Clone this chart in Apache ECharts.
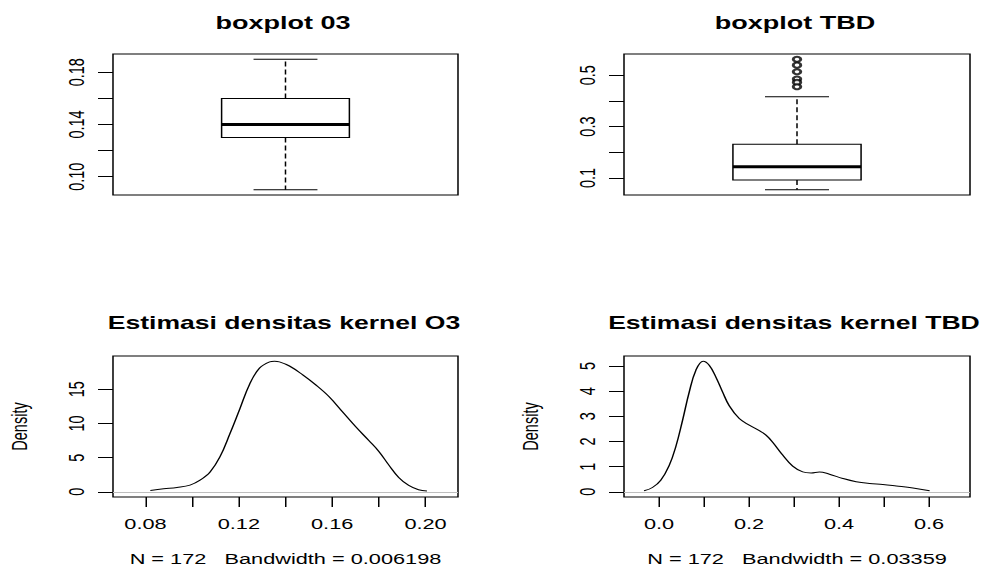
<!DOCTYPE html>
<html><head><meta charset="utf-8">
<script src="https://cdn.jsdelivr.net/npm/echarts@6/dist/echarts.min.js"></script>
<style>
html,body{margin:0;padding:0;background:#fff;overflow:hidden}
#wrap{width:985px;height:570px;overflow:hidden;position:relative}
#chart{width:656.667px;height:570px;transform:scaleX(1.5);transform-origin:0 0}
</style>
</head><body><div id="wrap"><div id="chart"></div></div>
<script>
// ---------------- data ----------------
const titles = ['boxplot 03', 'boxplot TBD', 'Estimasi densitas kernel O3', 'Estimasi densitas kernel TBD'];
const densityXNames = ['N = 172   Bandwidth = 0.006198', 'N = 172   Bandwidth = 0.03359'];
const densityYName = 'Density';

// five-number summaries: [lower whisker, Q1, median, Q3, upper whisker]
const o3Box = [0.09, 0.13, 0.14, 0.16, 0.19];
const tbdBox = [0.054, 0.092, 0.144, 0.231, 0.416];
const tbdOutliers = [0.562, 0.539, 0.513, 0.485, 0.472, 0.455];

const o3DensX = [0.0821, 0.0878, 0.0935, 0.0991, 0.1034, 0.1077, 0.1119, 0.1162, 0.1204, 0.1247, 0.1289, 0.1332, 0.1353, 0.1374, 0.1417, 0.1474, 0.1531, 0.1587, 0.1644, 0.1701, 0.1757, 0.18, 0.1843, 0.1885, 0.1928, 0.197, 0.2006];
const o3DensY = [0.2, 0.44, 0.64, 0.98, 1.7, 2.9, 5.1, 8.5, 12.1, 15.8, 18.1, 19.0, 19.1, 19.0, 18.4, 17.1, 15.6, 13.9, 11.7, 9.5, 7.5, 5.9, 3.9, 2.1, 0.93, 0.3, 0.12];

const tbdDensX = [-0.0334, -0.0148, 0.0037, 0.0223, 0.0371, 0.052, 0.0668, 0.0817, 0.098, 0.1114, 0.1262, 0.141, 0.1559, 0.1782, 0.2004, 0.2227, 0.2376, 0.2524, 0.2747, 0.2969, 0.3192, 0.3378, 0.3563, 0.3786, 0.4083, 0.438, 0.4677, 0.4973, 0.5272, 0.5642, 0.6013];
const tbdDensY = [0.04, 0.17, 0.46, 1.04, 1.79, 2.83, 3.95, 4.83, 5.19, 5.03, 4.56, 3.97, 3.42, 2.91, 2.65, 2.43, 2.25, 1.97, 1.46, 1.02, 0.79, 0.75, 0.79, 0.70, 0.53, 0.40, 0.33, 0.29, 0.23, 0.15, 0.04];

// ticks and tick labels
const o3BoxTicks = [0.10, 0.12, 0.14, 0.16, 0.18];
const o3BoxLabels = [0.10, 0.14, 0.18];
const tbdBoxTicks = [0.1, 0.2, 0.3, 0.4, 0.5];
const tbdBoxLabels = [0.1, 0.3, 0.5];
const o3DensXTicks = [0.08, 0.10, 0.12, 0.14, 0.16, 0.18, 0.20];
const o3DensXLabels = [0.08, 0.12, 0.16, 0.20];
const o3DensYTicks = [0, 5, 10, 15];
const tbdDensXTicks = [0, 0.1, 0.2, 0.3, 0.4, 0.5, 0.6];
const tbdDensXLabels = [0, 0.2, 0.4, 0.6];
const tbdDensYTicks = [0, 1, 2, 3, 4, 5];

// axis ranges
const o3BoxRange = [0.086, 0.194];
const tbdBoxRange = [0.0337, 0.5823];
const o3DensXRange = [0.0661, 0.2139];
const o3DensYRange = [-0.764, 19.864];
const tbdDensXRange = [-0.078, 0.691];
const tbdDensYRange = [-0.2076, 5.3976];

// ---------------- style ----------------
const FONT = '"Liberation Sans", Arial, sans-serif';
const SMALL = 14.5;
const BOX_HALF = 0.2, CAP_HALF = 0.1;
const grids = [
  {left: 75.33, top: 54, width: 230, height: 141},
  {left: 416, top: 54, width: 230.67, height: 141},
  {left: 75.33, top: 356, width: 230, height: 141},
  {left: 416, top: 356, width: 230.67, height: 141}
];
const titlePos = [[188.7, 14], [530, 14], [189.3, 314], [529.3, 314]];

function boxRenderItem(params, api) {
  const x = api.value(0);
  const lo = api.value(1), q1 = api.value(2), med = api.value(3), q3 = api.value(4), hi = api.value(5);
  const bl = api.coord([x - BOX_HALF, q1]);
  const tr = api.coord([x + BOX_HALF, q3]);
  const mL = api.coord([x - BOX_HALF, med]);
  const mR = api.coord([x + BOX_HALF, med]);
  const pLo = api.coord([x, lo]), pHi = api.coord([x, hi]);
  const pQ1 = api.coord([x, q1]), pQ3 = api.coord([x, q3]);
  const cL = api.coord([x - CAP_HALF, lo])[0], cR = api.coord([x + CAP_HALF, lo])[0];
  const dash = {stroke: '#000', lineWidth: 1, lineDash: [5, 3], fill: null};
  const solid = {stroke: '#000', lineWidth: 1, fill: null};
  return {type: 'group', children: [
    {type: 'line', shape: {x1: pQ3[0], y1: pQ3[1], x2: pHi[0], y2: pHi[1]}, style: dash},
    {type: 'line', shape: {x1: pQ1[0], y1: pQ1[1], x2: pLo[0], y2: pLo[1]}, style: dash},
    {type: 'line', shape: {x1: cL, y1: pHi[1], x2: cR, y2: pHi[1]}, style: solid},
    {type: 'line', shape: {x1: cL, y1: pLo[1], x2: cR, y2: pLo[1]}, style: solid},
    {type: 'rect', shape: {x: bl[0], y: tr[1], width: tr[0] - bl[0], height: bl[1] - tr[1]}, style: {stroke: '#000', lineWidth: 1, fill: '#fff'}},
    {type: 'line', shape: {x1: mL[0], y1: mL[1], x2: mR[0], y2: mR[1]}, style: {stroke: '#000', lineWidth: 3}}
  ]};
}

function yAxisCfg(idx, range, ticks, labels, fmt, name) {
  return {
    gridIndex: idx, type: 'value', min: range[0], max: range[1],
    axisLine: {show: false, onZero: false},
    splitLine: {show: false},
    axisTick: {show: true, length: 10, lineStyle: {color: '#000', width: 1}, customValues: ticks},
    axisLabel: {show: true, customValues: labels, rotate: 90, margin: 17, color: '#000',
      fontSize: SMALL, fontFamily: FONT, formatter: fmt},
    name: name || '', nameLocation: 'middle', nameGap: 55,
    nameTextStyle: {color: '#000', fontSize: SMALL, fontFamily: FONT}
  };
}
function xAxisDens(idx, range, ticks, labels, fmt, name) {
  return {
    gridIndex: idx, type: 'value', min: range[0], max: range[1],
    axisLine: {show: false, onZero: false},
    splitLine: {show: false},
    axisTick: {show: true, length: 10, lineStyle: {color: '#000', width: 1}, customValues: ticks},
    axisLabel: {show: true, customValues: labels, margin: 19, color: '#000',
      fontSize: SMALL, fontFamily: FONT, formatter: fmt},
    name: name, nameLocation: 'middle', nameGap: 54,
    nameTextStyle: {color: '#000', fontSize: SMALL, fontFamily: FONT}
  };
}
function zeroLine(idx) {
  return {type: 'line', xAxisIndex: idx, yAxisIndex: idx, data: [], z: 10, silent: true,
    markLine: {silent: true, symbol: ['none', 'none'], label: {show: false}, z: 10,
      lineStyle: {color: '#bebebe', type: 'solid', width: 1.2}, data: [{yAxis: 0}]}};
}

const chart = echarts.init(document.getElementById('chart'), null, {renderer: 'svg'});
const option = {
  animation: false,
  backgroundColor: '#fff',
  title: titles.map((t, i) => ({
    text: t, left: titlePos[i][0], top: titlePos[i][1], textAlign: 'center', padding: 0,
    textStyle: {fontSize: i < 2 ? 18 : 17.7, fontWeight: 'bold', color: '#000', fontFamily: FONT}
  })),
  grid: grids.map(g => Object.assign({show: true, borderColor: '#000', borderWidth: 1, backgroundColor: 'transparent'}, g)),
  xAxis: [
    {gridIndex: 0, type: 'value', min: 0.46, max: 1.54, show: false},
    {gridIndex: 1, type: 'value', min: 0.46, max: 1.54, show: false},
    xAxisDens(2, o3DensXRange, o3DensXTicks, o3DensXLabels, v => v.toFixed(2), densityXNames[0]),
    xAxisDens(3, tbdDensXRange, tbdDensXTicks, tbdDensXLabels, v => v.toFixed(1), densityXNames[1])
  ],
  yAxis: [
    yAxisCfg(0, o3BoxRange, o3BoxTicks, o3BoxLabels, v => v.toFixed(2)),
    yAxisCfg(1, tbdBoxRange, tbdBoxTicks, tbdBoxLabels, v => v.toFixed(1)),
    yAxisCfg(2, o3DensYRange, o3DensYTicks, o3DensYTicks, v => String(Math.round(v)), densityYName),
    yAxisCfg(3, tbdDensYRange, tbdDensYTicks, tbdDensYTicks, v => String(Math.round(v)), densityYName)
  ],
  series: [
    {type: 'custom', xAxisIndex: 0, yAxisIndex: 0, renderItem: boxRenderItem,
      encode: {x: 0, y: [1, 2, 3, 4, 5]}, data: [[1].concat(o3Box)], silent: true},
    {type: 'custom', xAxisIndex: 1, yAxisIndex: 1, renderItem: boxRenderItem,
      encode: {x: 0, y: [1, 2, 3, 4, 5]}, data: [[1].concat(tbdBox)], silent: true},
    {type: 'scatter', xAxisIndex: 1, yAxisIndex: 1, symbol: 'emptyCircle', symbolSize: 5,
      itemStyle: {color: '#000', borderColor: '#000', borderWidth: 0.8},
      data: tbdOutliers.map(v => [1, v]), silent: true},
    {type: 'line', xAxisIndex: 2, yAxisIndex: 2, showSymbol: false, smooth: 0.4, z: 2,
      lineStyle: {color: '#000', width: 1}, data: o3DensX.map((x, i) => [x, o3DensY[i]]), silent: true},
    {type: 'line', xAxisIndex: 3, yAxisIndex: 3, showSymbol: false, smooth: 0.4, z: 2,
      lineStyle: {color: '#000', width: 1}, data: tbdDensX.map((x, i) => [x, tbdDensY[i]]), silent: true},
    zeroLine(2),
    zeroLine(3)
  ]
};
chart.setOption(option);
</script>
</body></html>
